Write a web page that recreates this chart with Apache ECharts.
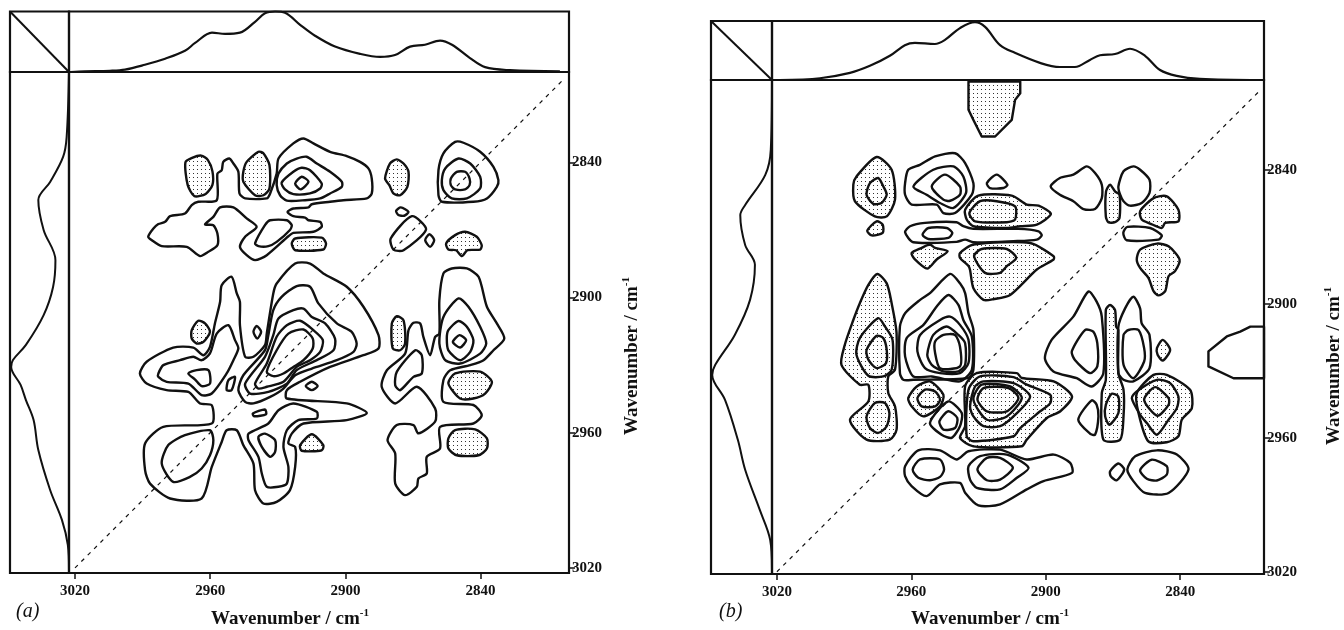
<!DOCTYPE html>
<html><head><meta charset="utf-8">
<style>html,body{margin:0;padding:0;background:#fff}#c{width:1344px;height:630px}</style>
<script src="https://cdn.jsdelivr.net/npm/echarts@6/dist/echarts.min.js"></script>
</head><body><div id="c"></div>
<script>
// tick labels
const ticks=[3020,2960,2900,2840];
// 1-D spectra: [wavenumber, relative intensity]
const topA=[[3022,0],[3015.6,.01],[3004.5,.02],[2997.8,.04],[2989,.12],[2980,.22],[2971.2,.35],[2966.7,.48],[2959.2,.65],[2953.4,.63],[2946.8,.65],[2940.1,.83],[2935.7,.97],[2931.2,1],[2926.8,.98],[2920.1,.78],[2913.5,.6],[2904.6,.42],[2893.5,.3],[2884.6,.25],[2878,.28],[2871.3,.42],[2864.7,.45],[2858,.52],[2852.7,.45],[2844.7,.23],[2838,.08],[2827,.03],[2804.8,.01]];
const leftA=[[0,2800],[.04,2828.8],[.1,2837.6],[.32,2848.7],[.52,2856.7],[.43,2870],[.23,2883.4],[.27,2895.3],[.43,2907.8],[.73,2921],[.95,2927.7],[.98,2930.8],[.82,2938.8],[.73,2945.5],[.6,2954.4],[.52,2967.7],[.32,2985.4],[.12,2998.7],[.02,3009.8],[0,3020.9]];
const topB=[[3018.7,0],[3000.8,.03],[2987.4,.12],[2978.5,.24],[2969.6,.41],[2962.9,.59],[2958.4,.63],[2949.5,.61],[2945,.68],[2938.3,.88],[2931.6,.98],[2927.1,.9],[2920.4,.59],[2913.8,.46],[2902.6,.29],[2893.7,.22],[2887,.22],[2880.3,.34],[2875.8,.42],[2869.1,.44],[2862.4,.53],[2855.7,.41],[2849,.17],[2841.6,.07],[2831.2,.02],[2804.4,0]];
const leftB=[[0,2799.7],[.02,2831],[.11,2842.2],[.44,2855.7],[.52,2860.2],[.44,2873.6],[.28,2882.5],[.36,2898.2],[.61,2913.9],[.93,2927.3],[.98,2931.8],[.77,2943],[.56,2960.9],[.44,2974.3],[.2,2992.3],[.03,3005.7],[0,3019]];
// Panel (a) contours: [wavenumber x, wavenumber y]
const a1=[[2971,2840],[2968,2838],[2964,2837],[2961,2839],[2959,2844],[2959,2850],[2962,2854],[2967,2855],[2970,2850]];
const a2=[[2945.3,2844.2],[2943.8,2839.8],[2938.6,2835.3],[2936.4,2836],[2933.7,2841.2],[2933.7,2851.6],[2936.4,2854.6],[2940.1,2854.6],[2945.3,2848.6]];
const a3=[[2987.5,2873],[2985.2,2869.4],[2983,2867.4],[2980,2866.4],[2977.8,2863.9],[2971.2,2862.7],[2968.2,2859],[2965.3,2857.5],[2957.1,2856.8],[2956.8,2845],[2954.9,2843.5],[2954.2,2839.8],[2951.5,2838.3],[2949.7,2840.5],[2947.5,2844.2],[2947,2853.8],[2944.5,2856],[2934.9,2856],[2933.4,2853.8],[2930.5,2845],[2929.7,2838.3],[2923.1,2831.6],[2918.6,2829.4],[2914.2,2831.6],[2906.8,2835.3],[2899.4,2837.2],[2893.5,2839.8],[2889.8,2842.7],[2888.3,2847.2],[2888.3,2853.8],[2890.5,2856],[2900.9,2856.8],[2906.8,2857.5],[2914.9,2858.6],[2916.4,2860],[2923.1,2860.5],[2925.7,2862],[2923.1,2863.9],[2917.9,2864.5],[2916.4,2865.7],[2911.2,2866.4],[2910.5,2868.6],[2914.2,2870.8],[2923.1,2871.3],[2925.3,2872.8],[2934.9,2881.2],[2940.1,2883.4],[2943.8,2881.2],[2946.8,2877.5],[2944.5,2873],[2939.4,2868.6],[2943.8,2864.9],[2949.7,2860],[2955.6,2860],[2958.6,2864.2],[2962.3,2867.6],[2958.6,2867.9],[2956.8,2871.6],[2956.8,2876.8],[2960.8,2879.7],[2964.5,2881.6],[2970.4,2877.5],[2981.5,2877.2],[2986,2874.5]];
const a4=[[2929.7,2845],[2926,2840.5],[2921.6,2838.3],[2917.2,2837.5],[2912.7,2840.5],[2906.8,2844.2],[2901.6,2848.6],[2901.6,2850.9],[2906.8,2853.8],[2911.2,2856],[2917.9,2856.8],[2926,2857],[2929,2854.6],[2930.5,2850.1]];
const a5=[[2928.3,2849],[2923.1,2844.2],[2919.4,2842.4],[2915.7,2843.5],[2910.5,2849.4],[2911.2,2851.6],[2915.7,2853.8],[2923.1,2854.1],[2926.8,2852]];
const a6=[[2922.3,2849.4],[2919.4,2846.4],[2916.4,2848.6],[2919.8,2852]];
const a7=[[2940.1,2876],[2935.7,2867.9],[2933.4,2865.7],[2926,2865.7],[2923.8,2867.9],[2924.6,2870],[2930.5,2875.3],[2934.2,2877.2],[2938.6,2877.2]];
const a8=[[2923.8,2876],[2922.3,2873.8],[2910.5,2873.4],[2908.6,2876],[2909.8,2878.7],[2922.3,2879]];
const a9=[[2858.7,2843.5],[2856.5,2836],[2851.3,2830.9],[2847.6,2831.3],[2840.2,2835.3],[2834.3,2842],[2832.1,2847.9],[2832.8,2850.9],[2837.2,2856],[2843.2,2857.5],[2857.2,2857.5],[2858.7,2854.6]];
const a10=[[2857.2,2847.9],[2855.7,2842.7],[2849.8,2838.3],[2844.6,2840.5],[2840.2,2846.4],[2840.2,2851.6],[2846.1,2856],[2852.8,2856],[2856.5,2852.3]];
const a11=[[2853.2,2847.2],[2850.6,2844.2],[2846.9,2844.2],[2844.9,2847.2],[2844.9,2850.1],[2846.9,2852],[2851.3,2852],[2853.2,2850.1]];
const a12=[[2882.4,2847.2],[2880.2,2840.5],[2877.2,2838.7],[2874.2,2840.5],[2872,2844.2],[2872.5,2850.9],[2875.7,2854.6],[2878.7,2853.8],[2880.5,2850.1]];
const a13=[[2877.5,2861.5],[2875.4,2860],[2872,2862],[2873.9,2863.7],[2876.5,2863.4]];
const a14=[[2879.9,2873.8],[2870.5,2863.9],[2864.2,2869.8],[2874.2,2879],[2878.7,2878.7]];
const a15=[[2864.6,2874.5],[2862.7,2871.9],[2860.6,2874.5],[2862.4,2877.5]];
const a16=[[2855.3,2876],[2851.3,2872.3],[2846.9,2870.8],[2841.7,2873],[2839.5,2876.8],[2840.2,2878.7],[2845.8,2879],[2848.3,2881.6],[2850.9,2879],[2854.3,2878.7]];
const a17=[[2856.5,2889.3],[2852.8,2887.1],[2846.1,2887.1],[2840.9,2890.8],[2837.2,2904.1],[2832.8,2911.5],[2829.5,2918.2],[2834.3,2923.4],[2838.7,2927.8],[2844.6,2930],[2853.5,2932.3],[2856.5,2936.6],[2856.5,2946.3],[2843.2,2947.7],[2839.5,2952.2],[2843.2,2955.9],[2858,2957.4],[2858,2967],[2863.9,2970.7],[2863.9,2978.1],[2867.6,2980.3],[2868.3,2984],[2873.5,2987.7],[2877.9,2982.5],[2877.9,2969.2],[2881.3,2963.3],[2877.2,2956.6],[2869.8,2956.6],[2867.6,2960.3],[2860.2,2955.1],[2860.2,2949.2],[2868.3,2939.6],[2877.9,2947],[2883.9,2939.6],[2881.6,2932.3],[2873.5,2924.9],[2872,2914.5],[2869.8,2911.2],[2866.8,2911.5],[2865.4,2917.5],[2862.4,2925.6],[2860.2,2917.5],[2858.3,2916],[2858.3,2901.2]];
const a18=[[2858.3,2920.4],[2856.5,2908.6],[2849.8,2900.4],[2845.4,2904.1],[2840.2,2913],[2837.5,2920.4],[2840.2,2924.9],[2849.1,2929.3],[2855.7,2927.8]];
const a19=[[2855,2918.2],[2854.3,2914.5],[2849.8,2910.4],[2846.1,2913],[2843.2,2918.9],[2844.6,2924.1],[2849.1,2927.8],[2854.3,2923.4]];
const a20=[[2852.3,2919.7],[2849.4,2916.7],[2846.4,2918.9],[2849.1,2922.2]];
const a21=[[2879.4,2911.5],[2877.2,2908.3],[2874.2,2910.1],[2873.5,2920.4],[2875.7,2923.4],[2879,2922.6]];
const a22=[[2869,2923.4],[2866.1,2925.6],[2866.1,2933.7],[2869.8,2935.2],[2875.7,2941.1],[2877.9,2938.9],[2877.2,2933]];
const a23=[[2854.3,2938.1],[2851.3,2933.7],[2840.2,2932.9],[2835,2937.4],[2838,2942.6],[2843.2,2944.8],[2849.1,2944.8]];
const a24=[[2854.3,2962.5],[2851.3,2958.8],[2842.4,2958.5],[2837.2,2962.5],[2837.2,2967],[2840.9,2970],[2850.6,2970],[2854.3,2967]];
const a25=[[2991.2,2933.7],[2988.2,2928.5],[2976.4,2922.2],[2967.5,2922.2],[2963,2925.6],[2960.1,2921.9],[2957.9,2911.5],[2955.6,2901.9],[2954.9,2894.5],[2950.5,2890.8],[2948.2,2898.2],[2946.8,2901.9],[2946.8,2912.3],[2944.5,2926.3],[2940.8,2926.3],[2935.7,2921.1],[2934.9,2916],[2932,2898.2],[2930.5,2893.8],[2922.3,2884.9],[2915.7,2884.9],[2909.8,2889.3],[2899.4,2895.2],[2892,2904.1],[2885.3,2916.7],[2885.3,2922.6],[2892,2925.6],[2906.8,2930.8],[2920.1,2937.4],[2926,2941.1],[2926,2944.8],[2899.4,2947],[2890.5,2951.2],[2899.4,2954.4],[2918.6,2955.9],[2923.8,2960.4],[2925.3,2964.8],[2922.3,2966.3],[2922.3,2975.2],[2924.6,2985.5],[2930.5,2990.7],[2936.4,2991.4],[2940.1,2985.5],[2940.8,2973.7],[2945.3,2965.5],[2948.2,2958.9],[2952.7,2958.9],[2954.9,2964.1],[2959.3,2975.2],[2963.8,2989.2],[2977.8,2989.2],[2986.7,2982.6],[2988.9,2976.6],[2988.9,2964.8],[2980.8,2957.4],[2959.3,2955.9],[2959.3,2947.8],[2964.5,2947],[2969.7,2941.9],[2979.3,2941.1],[2988.2,2938.2]];
const a26=[[2983,2933.7],[2980.8,2930],[2973.4,2927.8],[2967.5,2926.3],[2963.8,2927.8],[2960.1,2924.8],[2957.1,2916],[2951.9,2912.3],[2949,2918.9],[2947.5,2922.6],[2949.7,2927.8],[2952.7,2933.7],[2959.3,2942.6],[2963.8,2943.3],[2969.7,2938.2],[2979.3,2937.4],[2983,2935.2]];
const a27=[[2969.7,2933.7],[2966,2932.2],[2960.8,2932.2],[2960.1,2938.2],[2963.8,2939.3],[2966.7,2936.4]];
const a28=[[2968.2,2914.5],[2965.3,2910.3],[2962.3,2911.5],[2960.1,2915.2],[2963,2919.7],[2966,2920.4],[2968.2,2918.2]];
const a29=[[2940.8,2915.2],[2939.4,2912.6],[2937.4,2915.2],[2939.1,2918.2]];
const a30=[[2952.7,2941.1],[2951.9,2936.7],[2949,2935.2],[2950.5,2941.1]];
const a31=[[2941.1,2951.5],[2935.7,2949.7],[2935.2,2951.8],[2940.5,2952.7]];
const a32=[[2917.6,2939.3],[2914.9,2937.4],[2912.3,2939.3],[2914.9,2941.1]];
const a33=[[2920.1,2965.5],[2914.9,2960.7],[2909.8,2965.5],[2910.5,2967.8],[2919.4,2968]];
const a34=[[2981.5,2973.7],[2978.6,2965.5],[2971.2,2961.1],[2960.1,2958.9],[2958.6,2963.3],[2960.1,2970],[2963.8,2975.9],[2969,2979.6],[2976.4,2981.8]];
const a35=[[2943,2960.4],[2934.2,2955.9],[2929.7,2950],[2923.1,2947],[2912.7,2950.7],[2912.7,2953.7],[2920.9,2954.4],[2926,2958.9],[2927.5,2966.3],[2925.3,2975.2],[2926,2982.6],[2929.7,2984],[2934.9,2984],[2937.1,2978.1],[2938.6,2970.7],[2943,2963.3]];
const a36=[[2938.6,2961.8],[2935.7,2960.4],[2931.2,2963.3],[2931.2,2968.5],[2933.4,2970.7],[2937.1,2966.3]];
const a37=[[2947.5,2941.1],[2945.3,2934.5],[2935.7,2923.4],[2934.2,2916.7],[2932,2905.6],[2928.3,2899.7],[2921.6,2894.9],[2915.7,2895.2],[2912,2902.6],[2903.8,2911.5],[2897.2,2915.2],[2895,2920.4],[2896.4,2924.1],[2903.8,2927.8],[2914.9,2931.5],[2922.3,2934.5],[2927.5,2940.4],[2933.4,2944.1],[2940.8,2947],[2944.5,2946.3]];
const a38=[[2944.5,2938.2],[2935.7,2926.3],[2932,2916.7],[2929.7,2909.3],[2923.1,2905.6],[2918.6,2904.9],[2914.9,2908.6],[2909,2911.5],[2904.6,2918.2],[2905.3,2923.4],[2912.7,2927.8],[2921.6,2932.2],[2926,2938.2],[2934.2,2941.9],[2942.3,2942.6]];
const a39=[[2940.1,2938.2],[2934.9,2929.3],[2930.5,2917.4],[2926,2912.3],[2920.1,2910.3],[2914.2,2914.5],[2910,2918.9],[2911.2,2924.1],[2915.7,2927.8],[2921.6,2930.8],[2927.5,2937.4],[2934.9,2939.6],[2938.6,2940.4]];
const a40=[[2934.9,2933],[2930.5,2923.4],[2925.3,2916],[2918.6,2914.2],[2914.5,2918.2],[2914.5,2922.6],[2918.6,2927.8],[2923.1,2930.8],[2927.5,2933.7],[2932,2934.9]];
const dottedA=[a1,a2,a8,a12,a16,a21,a23,a24,a28,a33];
const plainA=[a3,a4,a5,a6,a7,a9,a10,a11,a13,a14,a15,a17,a18,a19,a20,a22,a25,a26,a27,a29,a30,a31,a32,a34,a35,a36,a37,a38,a39,a40];
// Panel (b) contours
const b1=[[2934.5,2800.4],[2934.5,2813],[2932.3,2817.6],[2928.6,2825],[2922.6,2825],[2915.2,2817.6],[2913.7,2808.6],[2911.4,2805.6],[2911.4,2800.4]];
const b2=[[2985.9,2846.6],[2984.5,2842.9],[2975.5,2834.2],[2968.8,2839.9],[2967.3,2853.3],[2971,2860.8],[2976.3,2860.8],[2985.2,2854]];
const b3=[[2980,2851.1],[2978.5,2845.9],[2974.8,2843.6],[2972.5,2847.4],[2971,2851.1],[2973.3,2854.8],[2977,2855.2]];
const b4=[[2979.7,2867.2],[2975.5,2863],[2972.8,2864.5],[2972.8,2868.2],[2977.7,2869.3]];
const b5=[[2962.8,2845.9],[2961.4,2839.9],[2956.2,2837.7],[2949.4,2833.9],[2940.5,2832.5],[2936,2836.9],[2932.3,2845.9],[2933,2851.1],[2940.5,2859.3],[2945.7,2859.3],[2948.7,2855.5],[2959.9,2855.5],[2962.8,2851.1]];
const b6=[[2959.1,2847.4],[2950.2,2839.9],[2941.2,2838.4],[2936.8,2842.9],[2935.6,2850.3],[2941.2,2857],[2947.2,2854.8],[2953.2,2851.1]];
const b7=[[2950.9,2847.4],[2945,2842.1],[2938.3,2847.4],[2938.3,2851.1],[2942.7,2853.8],[2945.7,2853.3]];
const b8=[[2926.3,2845.9],[2921.9,2842.1],[2917.1,2846.6],[2918.9,2848.1],[2924.9,2848.1]];
const b9=[[2936,2857.8],[2930.1,2851.5],[2915.2,2851.5],[2908.5,2855.5],[2903.2,2856],[2897.7,2859.7],[2904,2864.5],[2911.4,2865.2],[2917.4,2866],[2932.3,2865.2],[2935.3,2862.2]];
const b10=[[2934.1,2859.3],[2929.3,2854],[2921.9,2854],[2913.7,2856.3],[2913.7,2862.2],[2917.4,2863.4],[2931.6,2863]];
const b11=[[2962.8,2867.9],[2960.6,2865.2],[2953.9,2863.7],[2939.8,2863.4],[2936.8,2865.2],[2932.3,2866.4],[2912.2,2866.4],[2903.2,2867.5],[2901.8,2869.3],[2904,2871.2],[2914.4,2871.9],[2932.3,2872.4],[2936,2871.2],[2939.8,2872.2],[2959.1,2872.4]];
const b12=[[2955,2869],[2952.4,2866],[2944.2,2866],[2941.7,2868.2],[2943.5,2870.4],[2952.4,2870.9]];
const b13=[[2959.9,2877.2],[2955.4,2874.9],[2951.7,2873.4],[2949.4,2874.9],[2943.8,2876.4],[2948.7,2880.1],[2952.9,2884.2],[2958.4,2880.1]];
const b14=[[2938.3,2877.2],[2932.3,2873.4],[2907,2872.7],[2896.5,2878.6],[2896.5,2880.1],[2904,2884.6],[2915.9,2896],[2923.4,2897.9],[2927.8,2898.2],[2932.3,2893],[2933.8,2884.8],[2934.5,2883],[2938.3,2879.4]];
const b15=[[2932,2878.6],[2928.6,2875.4],[2917.4,2875.4],[2913.2,2879.4],[2917.4,2883.1],[2920.4,2886.1],[2927.1,2886.1]];
const b16=[[2897.8,2847.4],[2893.7,2843.6],[2887.7,2842.1],[2881.7,2838.4],[2878,2841.4],[2875,2846.6],[2875,2852.6],[2878,2857.5],[2883.2,2857.5],[2887.7,2854],[2893.7,2851.1]];
const b17=[[2873.1,2849.6],[2871.3,2846.6],[2869.1,2849.6],[2867.1,2851.1],[2867.1,2861.5],[2869.1,2863.4],[2872.1,2863.4],[2873.2,2860.8]];
const b18=[[2867.6,2847.4],[2865.3,2840.6],[2860.9,2838.4],[2857.9,2839.9],[2853.7,2844.4],[2853.7,2850.3],[2857.2,2854.8],[2862.4,2856],[2865.3,2854],[2866.8,2851.1]];
const b19=[[2857.9,2858.5],[2851.9,2852.6],[2846,2851.8],[2840.8,2857.8],[2840.8,2863],[2846.7,2863.7],[2848.2,2866],[2853.4,2864],[2857.2,2862.2]];
const b20=[[2865.4,2868.2],[2863.6,2865.5],[2853.4,2866],[2848.2,2869.3],[2849.7,2871.2],[2863.9,2871.5]];
const b21=[[2859.4,2880.1],[2857.9,2875.7],[2850.4,2873],[2845.2,2874.2],[2840.3,2880.1],[2842.3,2885.3],[2845.2,2887.6],[2846.7,2894.3],[2849.7,2896.2],[2851.9,2894.3],[2854.2,2888.3],[2857.9,2883.9]];
const b22=[[2991.2,2927.3],[2983,2936.2],[2979.2,2936.2],[2979.2,2943.7],[2987.4,2951.9],[2980,2960.8],[2969.6,2960.8],[2966.6,2956.3],[2967.3,2945.9],[2970.3,2939.9],[2970.3,2932.5],[2967.3,2929.5],[2966.6,2913.1],[2968.8,2899.7],[2971,2890.8],[2975.2,2886.6],[2979.2,2891.5],[2983,2899.7],[2985.9,2907.2],[2989.7,2918.3]];
const b23=[[2984.5,2922.8],[2983,2915.3],[2974.8,2906.4],[2971.8,2910.1],[2968.4,2916.1],[2968.8,2929.5],[2972.5,2932.5],[2979.2,2932.2]];
const b24=[[2980,2920.6],[2975.5,2914.3],[2972.5,2915.4],[2971,2920.6],[2971.3,2926.5],[2975.5,2928.8],[2979.2,2925]];
const b25=[[2980,2950.4],[2976.3,2944.4],[2971.8,2944.4],[2969.8,2948.9],[2971,2954.8],[2974.8,2957.8],[2978.5,2955.6]];
const b26=[[2965.1,2910.1],[2962.8,2904.2],[2956.1,2898.2],[2951.7,2895.2],[2942.7,2886.6],[2938.3,2890.8],[2936,2895.2],[2934.5,2904.2],[2932.3,2911.6],[2932.3,2929.5],[2934.5,2933.2],[2959.1,2934],[2963.6,2934],[2965.1,2931]];
const b27=[[2962.8,2923.5],[2962.1,2915.3],[2954.6,2909.4],[2948.7,2901.2],[2943.5,2896],[2939,2900.4],[2936.8,2907.2],[2933,2914.6],[2933,2929.5],[2938.3,2934.7],[2950.9,2932.5],[2959.1,2932.5]];
const b28=[[2957.3,2921.3],[2956.1,2913.9],[2947.2,2907.2],[2942.7,2905.7],[2938.3,2909.4],[2934.5,2916.1],[2934.5,2926.5],[2938.3,2931],[2947.2,2931],[2953.9,2928.8]];
const b29=[[2952.9,2922.8],[2950.2,2913.9],[2944.2,2910.1],[2939,2913.9],[2936,2917.6],[2936,2927.3],[2939,2930.2],[2945.7,2930.2],[2950.9,2927.3]];
const b30=[[2949.4,2922],[2949.4,2916.8],[2945.7,2913.9],[2940.5,2913.9],[2938.3,2919.1],[2938.3,2928],[2947.2,2928.8]];
const b31=[[2961.4,2942.2],[2957.6,2937],[2951.7,2934.7],[2945.7,2940.7],[2947.2,2945.9],[2954.7,2950.4],[2959.9,2945.9]];
const b32=[[2957.3,2942.2],[2953.9,2938.4],[2949.4,2939.2],[2947.2,2942.9],[2949.4,2945.9],[2955.4,2945.9]];
const b33=[[2951.7,2953.3],[2943.5,2943.7],[2937.5,2948.9],[2938.3,2954.8],[2942,2960],[2946.5,2958.6]];
const b34=[[2947.5,2952.6],[2943.5,2948.1],[2939.5,2951.1],[2940.5,2955.6],[2945.7,2956.3]];
const b35=[[2938.3,2960],[2936,2954.8],[2936,2936.9],[2930.8,2931],[2912.9,2931],[2910.7,2933.2],[2896.5,2934.7],[2888.3,2941.4],[2893.5,2948.1],[2899.5,2951.1],[2908.5,2960.8],[2910.7,2963.8],[2932.3,2963.8]];
const b36=[[2935.3,2959.3],[2934.5,2938.4],[2929.3,2932.5],[2914.4,2932.8],[2908.5,2936.2],[2898,2940.7],[2898,2944.4],[2902.5,2948.1],[2911.4,2955.6],[2914.4,2959.3],[2932.3,2961.5]];
const b37=[[2933.8,2945.9],[2931.6,2937],[2927.8,2934.7],[2914.4,2935.5],[2907,2941.4],[2912.9,2948.9],[2920.4,2954.8],[2927.8,2954.8],[2932.3,2950.4]];
const b38=[[2932.3,2942.9],[2928.6,2936.2],[2915.9,2937],[2910.7,2942.2],[2917.4,2950.4],[2926.3,2951.9]];
const b39=[[2930.5,2942.9],[2927.8,2937.7],[2916.7,2937.7],[2912.2,2942.2],[2917.4,2948.1],[2926.3,2948.1]];
const b40=[[2962.8,2972.7],[2956.9,2965.6],[2947.2,2965.6],[2939.8,2969.7],[2934.5,2966],[2920.4,2965.3],[2908.5,2969.7],[2896.5,2967.5],[2889.1,2971.2],[2888.3,2975.7],[2901,2979.4],[2908.5,2983.1],[2920.4,2989.8],[2930.1,2990.3],[2936,2984.6],[2938.3,2980.2],[2947.2,2980.9],[2953.2,2986.1],[2959.9,2981.6],[2962.8,2977.2]];
const b41=[[2959.4,2974.2],[2956.1,2969.7],[2947.2,2969.7],[2945.4,2974.2],[2947.2,2977.5],[2951.7,2979],[2956.9,2977.9]];
const b42=[[2934.5,2972.7],[2929.3,2968.2],[2917.4,2967.5],[2907.7,2973.4],[2912.9,2977.9],[2920.4,2983.1],[2930.8,2982.4],[2933.8,2978.7]];
const b43=[[2930.5,2974.2],[2926.3,2969],[2920.4,2969],[2914.7,2973.4],[2920.4,2978.7],[2926.3,2979]];
const b44=[[2900.4,2924.3],[2897.4,2916.1],[2887.7,2905.7],[2881,2894.5],[2877.3,2899],[2875,2905.7],[2874.3,2931],[2879.5,2937],[2886.2,2933.3],[2896.6,2930.3]];
const b45=[[2888.4,2921.3],[2882.5,2911.7],[2878.8,2912.4],[2877,2917.6],[2877,2928],[2880.3,2931],[2887,2925.1]];
const b46=[[2873.2,2902.7],[2871.3,2900.5],[2869.1,2902.7],[2868.6,2910.2],[2867.6,2911.7],[2867.6,2931],[2865.3,2938.5],[2865.3,2950.4],[2866.8,2960.8],[2874.3,2960.8],[2875,2940],[2873.2,2934]];
const b47=[[2873.2,2945.2],[2870.6,2940.3],[2867.6,2941.5],[2867.6,2948.9],[2871.6,2954.1],[2873.5,2950.4]];
const b48=[[2867.6,2910.2],[2864.6,2902],[2860.9,2896.8],[2857.9,2902],[2857.2,2908.7],[2853.7,2913.9],[2853.7,2928.8],[2860.9,2934.7],[2865.3,2934],[2867.6,2931]];
const b49=[[2865.3,2913.9],[2863.1,2911.7],[2858.6,2911.7],[2856.1,2919.8],[2856.1,2925.8],[2860.9,2933.3],[2865.3,2927.3]];
const b50=[[2850.4,2919.8],[2847.8,2916.1],[2844.5,2920.6],[2847.8,2925.4],[2850.1,2922.8]];
const b51=[[2859.4,2940],[2851.9,2931.8],[2846,2931.8],[2835.6,2938.5],[2834.8,2946.7],[2839.3,2951.9],[2840.8,2959.3],[2846,2962],[2854.2,2961.6],[2858.6,2948.9]];
const b52=[[2861.6,2942.2],[2859.4,2939.2],[2850.4,2934],[2844.5,2935.5],[2840.8,2941.5],[2841.5,2946.7],[2845.2,2951.9],[2850.4,2958.6],[2854.9,2953.4],[2857.9,2949.6]];
const b53=[[2856.1,2943],[2851.2,2937.3],[2845.2,2942.2],[2845.2,2945.2],[2850.2,2950.1]];
const b54=[[2885.5,2951.9],[2879.5,2943.2],[2877.3,2945.2],[2876.5,2950.4],[2878,2958.6],[2880.3,2958.1]];
const b55=[[2871.3,2975],[2867.6,2971.5],[2865,2974.2],[2868.3,2979],[2871,2977.2]];
const b56=[[2863.6,2974.2],[2860.1,2968.3],[2850.4,2965.6],[2841.5,2967.5],[2836.3,2974.2],[2845.2,2984.7],[2855.7,2984.7],[2860.9,2979.4]];
const b57=[[2857.9,2974.5],[2852.7,2969.8],[2846,2972.7],[2846,2976.5],[2850.4,2979.1],[2854.9,2978.3]];
const b58=[[2802.6,2910.2],[2808.7,2910.2],[2813.2,2912.4],[2819.2,2914.6],[2827.4,2921.3],[2827.4,2928],[2816.2,2933.3],[2802.6,2933.3]];
const dottedB=[b1,b2,b4,b9,b13,b14,b17,b19,b21,b22,b31,b35,b46,b50,b51];
const plainB=[b3,b5,b6,b7,b8,b10,b11,b12,b15,b16,b18,b20,b23,b24,b25,b26,b27,b28,b29,b30,b32,b33,b34,b36,b37,b38,b39,b40,b41,b42,b43,b44,b45,b47,b48,b49,b52,b53,b54,b55,b56,b57,b58];
const diagonalA=[[3020,3020],[2803,2803]];
const diagonalB=[[3020,3020],[2804,2804]];
const cornerLine=[[0,1],[1,0]];
const edgeCut=[b1,b58];

const dotCanvas=document.createElement('canvas');dotCanvas.width=4;dotCanvas.height=4;
const dc=dotCanvas.getContext('2d');dc.fillStyle='#fff';dc.fillRect(0,0,4,4);dc.fillStyle='#333';dc.fillRect(1,1,1,1);
const dots={image:dotCanvas,repeat:'repeat'};
const INK='#111';
const serif='"Liberation Serif",serif';

const grids=[],xAxes=[],yAxes=[],series=[];
function hiddenAxis(o){return Object.assign({type:'value',show:false,scale:false,splitLine:{show:false}},o);}
function poly(list,g,fill){
  list.forEach(d=>series.push({type:'custom',xAxisIndex:g,yAxisIndex:g,silent:true,animation:false,
    data:d,encode:{x:0,y:1},
    renderItem(p,api){
      if(p.context.rendered)return;p.context.rendered=true;
      return{type:'polygon',shape:{points:d.map(v=>api.coord(v)),smooth:edgeCut.includes(d)?0:0.25},
        style:{fill:fill,stroke:INK,lineWidth:2.4,lineJoin:'round'}};
    }}));
}
function line(d,g,w,dash,smooth){
  series.push({type:'line',xAxisIndex:g,yAxisIndex:g,data:d,showSymbol:false,silent:true,animation:false,smooth:smooth||false,
    lineStyle:{color:INK,width:w,type:dash||'solid'},clip:false,z:5});
}
function panel(L,I,R,T,Tm,B,xr,yr,topD,leftD,diag,plain,dotted){
  const base=grids.length;
  const box={show:true,borderColor:INK,borderWidth:2.2,backgroundColor:'transparent'};
  grids.push(Object.assign({left:I,top:Tm,width:R-I,height:B-Tm},box));
  grids.push(Object.assign({left:I,top:T,width:R-I,height:Tm-T},box));
  grids.push(Object.assign({left:L,top:Tm,width:I-L,height:B-Tm},box));
  grids.push(Object.assign({left:L,top:T,width:I-L,height:Tm-T},box));
  const lab={fontFamily:serif,fontWeight:'bold',fontSize:15,color:INK};
  const tick={length:6,lineStyle:{color:INK,width:1.5},customValues:ticks};
  xAxes.push({gridIndex:base,type:'value',min:xr[1],max:xr[0],inverse:true,position:'bottom',
    axisLine:{show:false,onZero:false},axisTick:Object.assign({show:true},tick),
    axisLabel:Object.assign({show:true,margin:11,customValues:ticks,formatter:v=>String(v)},lab),splitLine:{show:false}});
  yAxes.push({gridIndex:base,type:'value',min:yr[0],max:yr[1],inverse:true,position:'right',
    axisLine:{show:false,onZero:false},axisTick:Object.assign({show:true},tick),
    axisLabel:Object.assign({show:true,margin:3,customValues:ticks,formatter:v=>String(v)},lab),splitLine:{show:false}});
  xAxes.push(hiddenAxis({gridIndex:base+1,min:xr[1],max:xr[0],inverse:true}));
  yAxes.push(hiddenAxis({gridIndex:base+1,min:0,max:1}));
  xAxes.push(hiddenAxis({gridIndex:base+2,min:0,max:1,inverse:true}));
  yAxes.push(hiddenAxis({gridIndex:base+2,min:yr[0],max:yr[1],inverse:true}));
  xAxes.push(hiddenAxis({gridIndex:base+3,min:0,max:1}));
  yAxes.push(hiddenAxis({gridIndex:base+3,min:0,max:1}));
  poly(dotted,base,dots);
  poly(plain,base,'none');
  line(diag,base,1.2,[4,5]);
  line(topD,base+1,2.2,null,0.35);
  line(leftD,base+2,2,null,0.35);
  line(cornerLine,base+3,2);
}
panel(10,69,569,11.5,72,573,[3022.66,2800.77],[2799.9,3022.26],topA,leftA,diagonalA,plainA,dottedA);
panel(711,772,1264,21,80,574,[3022.2,2802.6],[2799.7,3021],topB,leftB,diagonalB,plainB,dottedB);

function wn(x,y,rot){
  return{type:'text',x:x,y:y,rotation:rot||0,z:10,silent:true,style:{
    text:'{m|Wavenumber / cm}{s|-1}',textAlign:'center',textVerticalAlign:'middle',
    rich:{m:{fontFamily:serif,fontWeight:'bold',fontSize:19,fill:INK,lineHeight:22},
          s:{fontFamily:serif,fontWeight:'bold',fontSize:11,fill:INK,verticalAlign:'top',lineHeight:22}}}};
}
function tag(x,y,t){return{type:'text',x:x,y:y,silent:true,style:{text:t,font:'italic 20px '+serif,fill:INK,textAlign:'left',textVerticalAlign:'middle'}};}

const chart=echarts.init(document.getElementById('c'),null,{renderer:'canvas'});
chart.setOption({animation:false,backgroundColor:'#fff',grid:grids,xAxis:xAxes,yAxis:yAxes,series:series,
  graphic:[wn(290,619),wn(990,619),wn(632,356,Math.PI/2),wn(1334,366,Math.PI/2),tag(16,612,'(a)'),tag(719,612,'(b)')]});
</script></body></html>
